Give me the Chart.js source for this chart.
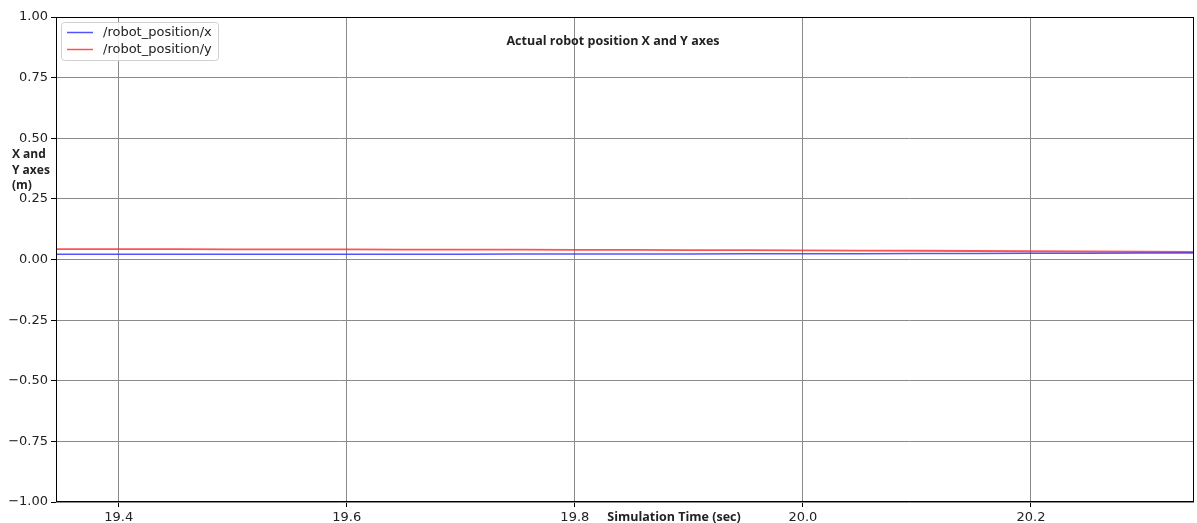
<!DOCTYPE html>
<html>
<head>
<meta charset="utf-8">
<script src="https://cdn.jsdelivr.net/npm/chart.js@4.4.1/dist/chart.umd.min.js"></script>
<style>
  html, body { margin: 0; padding: 0; background: #fff; }
  #wrap { width: 1197px; height: 523px; position: relative; }
</style>
</head>
<body>
<div id="wrap"><canvas id="c" width="1197" height="523"></canvas></div>
<script>
// Simulation time samples (s)
const simTime = [19.345, 19.40, 19.45, 19.50, 19.55, 19.60, 19.65, 19.70, 19.75, 19.80,
                 19.85, 19.90, 19.95, 20.00, 20.05, 20.10, 20.15, 20.20, 20.25, 20.30, 20.343];
// /robot_position/x (m)
const robotPosX = [0.022, 0.022, 0.022, 0.022, 0.022, 0.022, 0.022, 0.022, 0.023, 0.023,
                   0.023, 0.023, 0.024, 0.024, 0.024, 0.025, 0.025, 0.026, 0.026, 0.027, 0.027];
// /robot_position/y (m)
const robotPosY = [0.043, 0.043, 0.043, 0.042, 0.042, 0.042, 0.041, 0.041, 0.041, 0.040,
                   0.040, 0.039, 0.039, 0.038, 0.037, 0.036, 0.035, 0.034, 0.033, 0.032, 0.031];
// Axis ticks
const xTicks = [19.4, 19.6, 19.8, 20.0, 20.2];
const xTickLabels = ['19.4', '19.6', '19.8', '20.0', '20.2'];
const yTicks = [-1.0, -0.75, -0.5, -0.25, 0.0, 0.25, 0.5, 0.75, 1.0];
const yTickLabels = ['\u22121.00', '\u22120.75', '\u22120.50', '\u22120.25', '0.00', '0.25', '0.50', '0.75', '1.00'];

const titleText = 'Actual robot position X and Y axes';
const xAxisTitle = 'Simulation Time (sec)';
const yAxisTitle = ['X and', 'Y axes', '(m)'];

const TICK_FONT = '13px "DejaVu Sans", sans-serif';
const LABEL_FONT = 'bold 12.5px "Open Sans", sans-serif';
const YLABEL_FONT = 'bold 12px "Open Sans", sans-serif';

const toPoints = (ys) => simTime.map((t, i) => ({ x: t, y: ys[i] }));

// Frame, title, axis titles and an in-plot legend
const decorations = {
  id: 'decorations',
  afterDraw(chart) {
    const { ctx, chartArea: a } = chart;
    ctx.save();
    ctx.strokeStyle = '#000';
    ctx.lineWidth = 1;
    ctx.strokeRect(a.left + 0.5, a.top + 0.5, a.right - a.left - 1, a.bottom - a.top - 1);

    ctx.fillStyle = '#222';
    ctx.font = LABEL_FONT;
    ctx.textBaseline = 'middle';
    ctx.textAlign = 'center';
    ctx.fillText(titleText, 613, 41);
    ctx.fillText(xAxisTitle, 674, 517);
    ctx.font = YLABEL_FONT;
    ctx.textAlign = 'left';
    yAxisTitle.forEach((s, i) => ctx.fillText(s, 12, 155 + i * 15.5));

    // legend
    const lx = 61, ly = 22, lw = 157, lh = 38;
    ctx.fillStyle = 'rgba(255,255,255,0.85)';
    ctx.strokeStyle = '#d0d0d0';
    ctx.beginPath();
    ctx.roundRect(lx + 0.5, ly + 0.5, lw, lh, 3);
    ctx.fill();
    ctx.stroke();
    ctx.font = TICK_FONT;
    ctx.textBaseline = 'middle';
    chart.data.datasets.forEach((ds, i) => {
      const yy = ly + 10.5 + i * 17;
      ctx.strokeStyle = ds.borderColor;
      ctx.lineWidth = 1.5;
      ctx.beginPath();
      ctx.moveTo(lx + 6, yy);
      ctx.lineTo(lx + 32, yy);
      ctx.stroke();
      ctx.fillStyle = '#222';
      ctx.fillText(ds.label, lx + 42, yy);
    });
    ctx.restore();
  }
};

new Chart(document.getElementById('c'), {
  type: 'line',
  data: {
    datasets: [
      { label: '/robot_position/x', data: toPoints(robotPosX), borderColor: 'rgba(40,40,255,0.8)',
        borderWidth: 1.5, pointRadius: 0, tension: 0 },
      { label: '/robot_position/y', data: toPoints(robotPosY), borderColor: 'rgba(255,40,40,0.8)',
        borderWidth: 1.8, pointRadius: 0, tension: 0 }
    ]
  },
  options: {
    responsive: false,
    animation: false,
    layout: { padding: { left: 0, right: 3, top: 17, bottom: 0 } },
    plugins: { legend: { display: false }, tooltip: { enabled: false } },
    scales: {
      x: {
        type: 'linear',
        min: 19.345, max: 20.343,
        afterBuildTicks: (s) => { s.ticks = xTicks.map(v => ({ value: v })); },
        afterFit: (s) => { s.height = 21; },
        ticks: {
          autoSkip: false, maxRotation: 0, padding: 3,
          color: '#222', font: { family: 'DejaVu Sans', size: 13 },
          callback: (v) => xTickLabels[xTicks.findIndex(t => Math.abs(t - v) < 1e-6)]
        },
        grid: { color: '#8a8a8a', lineWidth: 1, tickColor: '#000', tickLength: 5 },
        border: { display: false }
      },
      y: {
        min: -1, max: 1,
        afterBuildTicks: (s) => { s.ticks = yTicks.map(v => ({ value: v })); },
        afterFit: (s) => { s.width = 56; },
        ticks: {
          autoSkip: false, padding: 3,
          color: '#222', font: { family: 'DejaVu Sans', size: 13 },
          callback: (v) => yTickLabels[yTicks.findIndex(t => Math.abs(t - v) < 1e-6)]
        },
        grid: { color: '#8a8a8a', lineWidth: 1, tickColor: '#000', tickLength: 5 },
        border: { display: false }
      }
    }
  },
  plugins: [decorations]
});
</script>
</body>
</html>
